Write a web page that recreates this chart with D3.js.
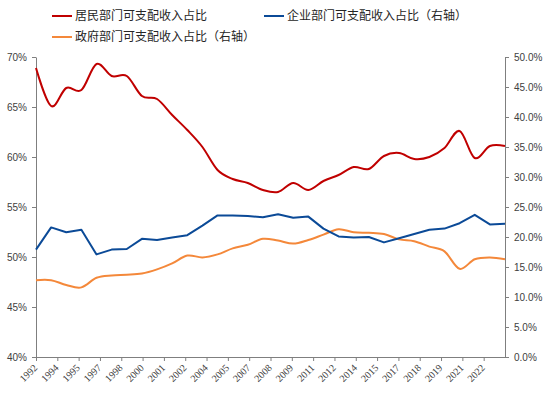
<!DOCTYPE html>
<html>
<head>
<meta charset="utf-8">
<script src="https://cdn.jsdelivr.net/npm/d3@7"></script>
<style>
  html, body { margin: 0; padding: 0; background: #fff; }
  #chart { width: 550px; height: 396px; }
  .axis-line { stroke: #7f7f7f; stroke-width: 1; }
  .axis-label { font-family: "Liberation Sans", Arial, sans-serif; font-size: 10px; fill: #404040; }
  .axis-year { font-family: "Liberation Serif", "Times New Roman", serif; font-size: 10px; fill: #404040; }
  .legend-text { font-family: "Noto Sans CJK SC", sans-serif; font-size: 12px; fill: #262626; }
</style>
</head>
<body>
<div id="chart"></div>
<script>
// Data: years, one value per year
const years = d3.range(1992, 2024);

const tickLabels = ['1992', '1994', '1995', '1997', '1998', '2000', '2001', '2002', '2004', '2005', '2007',
  '2008', '2009', '2011', '2012', '2014', '2015', '2017', '2018', '2019', '2021', '2022'];

// 居民部门 (left axis, %)
const household = [68.9, 65.1, 66.9, 66.7, 69.3, 68.1, 68.1, 66.1, 65.8, 64.2, 62.7, 61.0, 58.7, 57.8, 57.4, 56.7,
  56.5, 57.4, 56.7, 57.6, 58.2, 59.0, 58.8, 60.1, 60.4, 59.8, 60.0, 60.9, 62.6, 59.9, 61.1, 61.1];

// 企业部门 (right axis, %)
const enterprise = [17.9, 21.6, 20.8, 21.2, 17.1, 17.9, 18.0, 19.7, 19.5, 19.9, 20.3, 21.9, 23.6, 23.6, 23.5, 23.3,
  23.8, 23.2, 23.4, 21.4, 20.1, 19.9, 20.0, 19.1, 19.8, 20.5, 21.2, 21.4, 22.3, 23.7, 22.1, 22.2];

// 政府部门 (right axis, %)
const government = [12.8, 12.8, 12.0, 11.6, 13.2, 13.6, 13.7, 13.9, 14.6, 15.6, 16.9, 16.6, 17.1, 18.1, 18.7, 19.7,
  19.4, 18.9, 19.5, 20.4, 21.3, 20.8, 20.7, 20.5, 19.6, 19.3, 18.4, 17.6, 14.7, 16.3, 16.6, 16.3];

const leftTicks = [40, 45, 50, 55, 60, 65, 70];
const rightTicks = [0, 5, 10, 15, 20, 25, 30, 35, 40, 45, 50];

const seriesList = [
  { name: '居民部门可支配收入占比', values: household, axis: 'left', color: '#c00000', smooth: true },
  { name: '企业部门可支配收入占比（右轴）', values: enterprise, axis: 'right', color: '#0b4a97', smooth: false },
  { name: '政府部门可支配收入占比（右轴）', values: government, axis: 'right', color: '#f4883a', smooth: true },
];

const Chart = {

  config: {
    width: 550,
    height: 396,
    plotLeft: 36,
    plotRight: 505,
    plotTop: 57,
    plotBottom: 357,
    tickSize: 4,
  },

  svg: null,

  render(el) {
    const cfg = this.config;

    this.svg = d3.select(el)
      .append('svg')
      .attr('width', cfg.width)
      .attr('height', cfg.height);

    this.x = d3.scaleLinear()
      .domain([years[0], years[years.length - 1]])
      .range([cfg.plotLeft, cfg.plotRight]);

    // category ticks: 22 labels spread evenly, last interval ends on the right axis
    this.xTick = d3.scaleLinear()
      .domain([0, tickLabels.length])
      .range([cfg.plotLeft, cfg.plotRight]);

    this.yLeft = d3.scaleLinear().domain([40, 70]).range([cfg.plotBottom, cfg.plotTop]);
    this.yRight = d3.scaleLinear().domain([0, 50]).range([cfg.plotBottom, cfg.plotTop]);

    this._renderAxes();
    this._renderLines();
    this._renderLegend();
  },

  _styleAxis(g) {
    g.select('.domain').attr('class', 'domain axis-line').attr('fill', 'none');
    g.selectAll('.tick line').attr('class', 'axis-line');
  },

  _renderAxes() {
    const cfg = this.config;

    const left = this.svg.append('g')
      .attr('transform', `translate(${cfg.plotLeft},0)`)
      .call(d3.axisLeft(this.yLeft)
        .tickValues(leftTicks)
        .tickSize(cfg.tickSize)
        .tickSizeOuter(0)
        .tickPadding(5)
        .tickFormat(d => d + '%'));
    this._styleAxis(left);
    left.selectAll('text').attr('class', 'axis-label');

    const right = this.svg.append('g')
      .attr('transform', `translate(${cfg.plotRight},0)`)
      .call(d3.axisRight(this.yRight)
        .tickValues(rightTicks)
        .tickSize(cfg.tickSize)
        .tickSizeOuter(0)
        .tickPadding(5)
        .tickFormat(d => d3.format('.1f')(d) + '%'));
    this._styleAxis(right);
    right.selectAll('text').attr('class', 'axis-label');

    const bottom = this.svg.append('g')
      .attr('transform', `translate(0,${cfg.plotBottom})`)
      .call(d3.axisBottom(this.xTick)
        .tickValues(d3.range(tickLabels.length))
        .tickSize(cfg.tickSize)
        .tickSizeOuter(0)
        .tickFormat(i => tickLabels[i]));
    this._styleAxis(bottom);
    // rotated year labels hang below the tick, ending just left of it
    bottom.selectAll('text')
      .attr('class', 'axis-year')
      .attr('text-anchor', 'end')
      .attr('y', 0)
      .attr('dy', '0.35em')
      .attr('transform', 'translate(-1,9) rotate(-45)');
  },

  _renderLines() {
    const g = this.svg.append('g').attr('class', 'lines');
    const x = this.x;

    // draw order: orange, blue, red on top
    [seriesList[2], seriesList[1], seriesList[0]].forEach(s => {
      const y = s.axis === 'left' ? this.yLeft : this.yRight;
      const line = d3.line()
        .x((d, i) => x(years[i]))
        .y(d => y(d))
        .curve(s.smooth ? d3.curveCatmullRom.alpha(0) : d3.curveLinear);

      g.append('path')
        .datum(s.values)
        .attr('d', line)
        .attr('fill', 'none')
        .attr('stroke', s.color)
        .attr('stroke-width', 2)
        .attr('stroke-linejoin', 'round');
    });
  },

  _renderLegend() {
    const g = this.svg.append('g').attr('class', 'legend');
    const slots = [
      { x: 52, y: 16 },
      { x: 264, y: 16 },
      { x: 52, y: 37 },
    ];

    seriesList.forEach((s, i) => {
      const p = slots[i];
      g.append('line')
        .attr('x1', p.x)
        .attr('x2', p.x + 20)
        .attr('y1', p.y)
        .attr('y2', p.y)
        .attr('stroke', s.color)
        .attr('stroke-width', 2);

      g.append('text')
        .attr('x', p.x + 23)
        .attr('y', p.y + 4)
        .attr('class', 'legend-text')
        .text(s.name);
    });
  },
};

Chart.render(document.getElementById('chart'));
</script>
</body>
</html>
